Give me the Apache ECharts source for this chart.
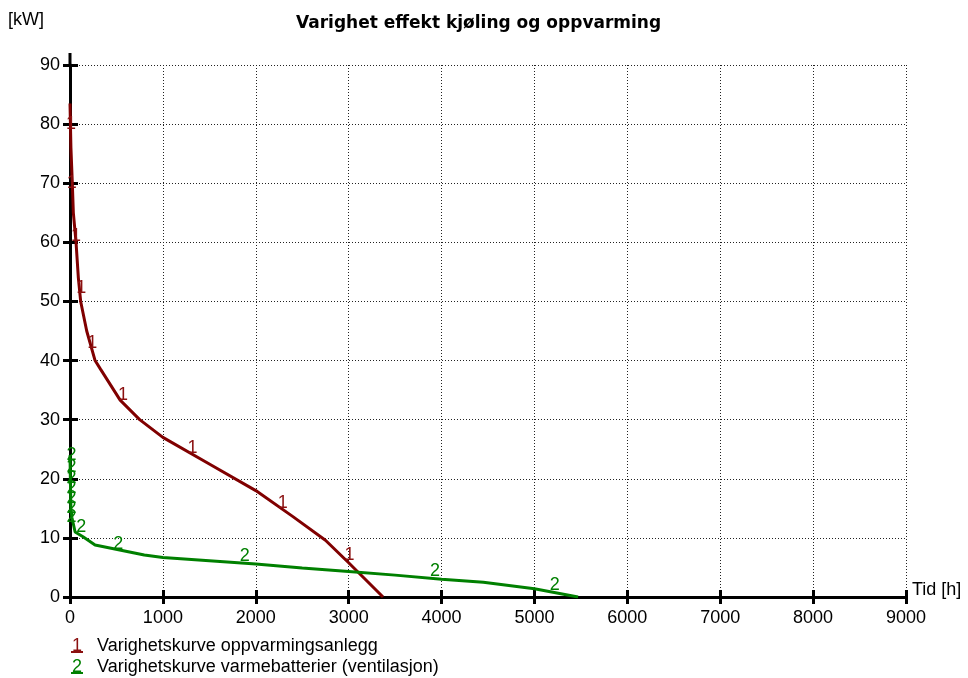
<!DOCTYPE html>
<html>
<head>
<meta charset="utf-8">
<script src="https://cdn.jsdelivr.net/npm/echarts@6/dist/echarts.min.js"></script>
<style>
  html, body { margin: 0; padding: 0; background: #ffffff; }
  #chart { width: 968px; height: 678px; }
</style>
</head>
<body>
<div id="chart"></div>
<script>
// Axis ticks
const xTicks = [0, 1000, 2000, 3000, 4000, 5000, 6000, 7000, 8000, 9000];
const yTicks = [0, 10, 20, 30, 40, 50, 60, 70, 80, 90];

// Duration curve 1: heating plant [h, kW]
const heatingHours = [0, 10, 25, 36, 65, 90, 115, 180, 270, 330, 540, 750, 1000, 1500, 2000, 2400, 2750, 3000, 3370];
const heatingKW    = [83.5, 76, 70, 65, 60, 54, 50, 45, 40, 38.5, 33.3, 30, 27, 22.5, 18, 13.6, 9.6, 5.8, 0];

// Duration curve 2: ventilation heating coils [h, kW]
const coilHours = [0, 5, 10, 20, 55, 140, 270, 800, 1000, 2000, 2500, 3000, 3500, 4000, 4450, 5000, 5470];
const coilKW    = [24, 19, 15, 13.5, 11, 10.2, 8.8, 7.1, 6.7, 5.6, 4.9, 4.3, 3.7, 3.0, 2.5, 1.4, 0];

// Curve number markers placed along each line [h, kW]
const heatingMarkHours = [10, 20, 65, 120, 240, 570, 1320, 2290, 3010];
const heatingMarkKW    = [80, 70, 61, 52.3, 43, 34.2, 25.2, 15.9, 7.1];
const coilMarkHours = [15, 15, 15, 15, 15, 15, 15, 120, 520, 1880, 3930, 5220];
const coilMarkKW    = [24.0, 22.0, 20.1, 18.4, 16.7, 15.0, 13.5, 11.8, 9.0, 6.9, 4.4, 2.0];

// Legend entries
const legendNumbers = ['1', '2'];
const legendNames = ['Varighetskurve oppvarmingsanlegg', 'Varighetskurve varmebatterier (ventilasjon)'];

const RED = '#800000';
const RED_LABEL = '#8b1010';
const GREEN = '#008000';
const FONT = '"Liberation Sans", Arial, sans-serif';

const zip = (a, b) => a.map((v, i) => [v, b[i]]);

const chart = echarts.init(document.getElementById('chart'), null, { renderer: 'canvas' });

const gridDotted = { show: true, lineStyle: { color: '#222', width: 1, type: [1, 2] } };
const plainNumber = v => String(v);

const markLabel = (text, color) => ({
  show: true, position: 'inside', formatter: text, color: color,
  fontSize: 18, fontFamily: FONT, opacity: 1,
  textBorderWidth: 0, textBorderColor: 'transparent', textShadowBlur: 0
});

const option = {
  animation: false,
  backgroundColor: '#ffffff',
  title: {
    text: 'Varighet effekt kjøling og oppvarming',
    left: 291,
    top: 10,
    textStyle: { fontFamily: '"DejaVu Sans", sans-serif', fontWeight: 'bold', fontSize: 17, color: '#000' }
  },
  grid: { left: 70, right: 62, top: 65, bottom: 81, containLabel: false },
  xAxis: [
    {
      type: 'value',
      min: xTicks[0], max: xTicks[xTicks.length - 1], interval: xTicks[1] - xTicks[0],
      axisLine: { show: true, onZero: false, lineStyle: { color: '#000', width: 3 } },
      axisTick: { show: true, inside: false, length: 7, lineStyle: { color: '#000', width: 3 } },
      axisLabel: { show: true, margin: 12, fontSize: 18, color: '#000', fontFamily: FONT, formatter: plainNumber },
      splitLine: gridDotted
    },
    {
      type: 'value', position: 'bottom',
      min: xTicks[0], max: xTicks[xTicks.length - 1], interval: xTicks[1] - xTicks[0],
      axisLine: { show: false },
      axisTick: { show: true, inside: true, length: 7, lineStyle: { color: '#000', width: 3 } },
      axisLabel: { show: false },
      splitLine: { show: false }
    }
  ],
  yAxis: [
    {
      type: 'value',
      min: yTicks[0], max: yTicks[yTicks.length - 1], interval: yTicks[1] - yTicks[0],
      axisLine: { show: true, onZero: false, lineStyle: { color: '#000', width: 3 } },
      axisTick: { show: true, inside: false, length: 7, lineStyle: { color: '#000', width: 3 } },
      axisLabel: { show: true, margin: 10, fontSize: 18, color: '#000', fontFamily: FONT, formatter: plainNumber },
      splitLine: gridDotted
    },
    {
      type: 'value', position: 'left',
      min: yTicks[0], max: yTicks[yTicks.length - 1], interval: yTicks[1] - yTicks[0],
      axisLine: { show: false },
      axisTick: { show: true, inside: true, length: 8, lineStyle: { color: '#000', width: 3 } },
      axisLabel: { show: false },
      splitLine: { show: false }
    }
  ],
  series: [
    {
      name: legendNames[0], type: 'line', xAxisIndex: 0, yAxisIndex: 0,
      data: zip(heatingHours, heatingKW),
      showSymbol: false, smooth: false, z: 3,
      lineStyle: { color: RED, width: 3 }
    },
    {
      name: legendNames[1], type: 'line', xAxisIndex: 0, yAxisIndex: 0,
      data: zip(coilHours, coilKW),
      showSymbol: false, smooth: false, z: 3,
      lineStyle: { color: GREEN, width: 3 }
    },
    {
      type: 'scatter', xAxisIndex: 0, yAxisIndex: 0, silent: true, z: 4,
      data: zip(heatingMarkHours, heatingMarkKW),
      symbolSize: 2, itemStyle: { color: 'rgba(0,0,0,0)' },
      label: markLabel(legendNumbers[0], RED_LABEL)
    },
    {
      type: 'scatter', xAxisIndex: 0, yAxisIndex: 0, silent: true, z: 4,
      data: zip(coilMarkHours, coilMarkKW),
      symbolSize: 2, itemStyle: { color: 'rgba(0,0,0,0)' },
      label: markLabel(legendNumbers[1], GREEN)
    }
  ]
};

chart.setOption(option);

// Units, axis extension and legend
const top90 = chart.convertToPixel({ gridIndex: 0 }, [0, yTicks[yTicks.length - 1]]);
const endX = chart.convertToPixel({ gridIndex: 0 }, [xTicks[xTicks.length - 1], 0]);
const legendColors = [RED_LABEL, GREEN];
const legendRows = [646, 667];

const graphics = [
  { type: 'line', shape: { x1: top90[0], y1: top90[1] - 12, x2: top90[0], y2: top90[1] }, style: { stroke: '#000', lineWidth: 3 } },
  { type: 'text', x: 8, y: 20, style: { text: '[kW]', font: '18px ' + FONT, fill: '#000', textVerticalAlign: 'middle' } },
  { type: 'text', x: endX[0] + 6, y: endX[1] - 7, style: { text: 'Tid [h]', font: '18px ' + FONT, fill: '#000', textVerticalAlign: 'middle' } }
];
legendNumbers.forEach((num, i) => {
  const y = legendRows[i];
  graphics.push({ type: 'text', x: 77, y: y, style: { text: num, font: '18px ' + FONT, fill: legendColors[i], textAlign: 'center', textVerticalAlign: 'middle' } });
  graphics.push({ type: 'line', shape: { x1: 71, y1: y + 6, x2: 83, y2: y + 6 }, style: { stroke: legendColors[i], lineWidth: 2 } });
  graphics.push({ type: 'text', x: 97, y: y, style: { text: legendNames[i], font: '18px ' + FONT, fill: '#000', textVerticalAlign: 'middle' } });
});
chart.setOption({ graphic: graphics });
</script>
</body>
</html>
